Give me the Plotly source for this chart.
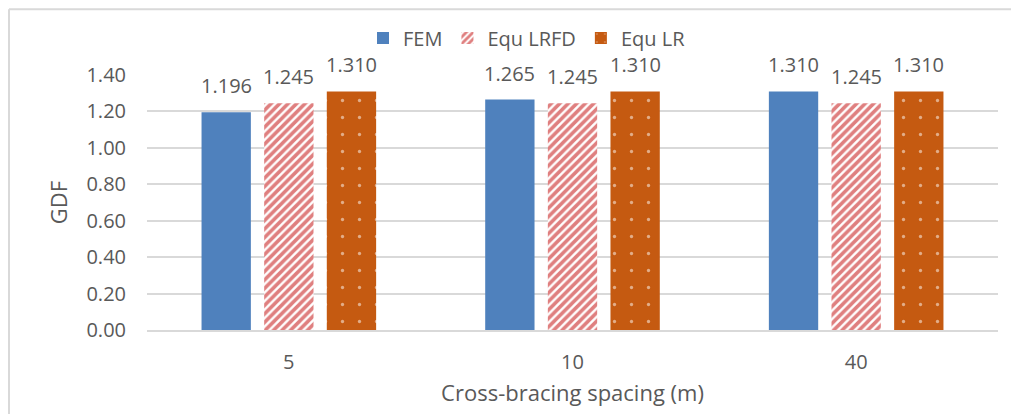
import plotly.graph_objects as go

categories = ["5", "10", "40"]
fem = [1.196, 1.265, 1.310]
equ_lrfd = [1.245, 1.245, 1.245]
equ_lr = [1.310, 1.310, 1.310]
series_names = ["FEM", "Equ LRFD", "Equ LR"]
y_ticks = [0, 0.2, 0.4, 0.6, 0.8, 1.0, 1.2, 1.4]

W, H = 1019, 414
ML, MR, MT, MB = 139, 29, 66, 92
PW = W - ML - MR
PH = H - MT - MB
GRAY = "#595959"
GRID = "#d9d9d9"
FONT = "Open Sans"

bargap = 0.3376
bargroupgap = 0.2125

fig = go.Figure()
fig.add_trace(go.Bar(name=series_names[0], x=categories, y=fem,
                     marker=dict(color="#4F81BD", line=dict(width=0))))
fig.add_trace(go.Bar(name=series_names[1], x=categories, y=equ_lrfd,
                     marker=dict(color="white", line=dict(width=0),
                                 pattern=dict(shape="/", fgcolor="#C00000", bgcolor="white",
                                              size=6, solidity=0.6, fillmode="overlay"))))
fig.add_trace(go.Bar(name=series_names[2], x=categories, y=equ_lr,
                     marker=dict(color="#C55A11", line=dict(width=0),
                                 pattern=dict(shape=".", fgcolor="white", bgcolor="#C55A11",
                                              size=17, solidity=0.03, fillmode="overlay"))))

# data labels (x given as category index)
cat_w = PW / len(categories)
slot = cat_w * (1 - bargap) / 3
annotations = []
for si, vals in enumerate([fem, equ_lrfd, equ_lr]):
    off = (si - 1) * slot
    for ci, v in enumerate(vals):
        annotations.append(dict(x=ci, y=v, xref="x", yref="y", text=f"{v:.3f}",
                                showarrow=False, yanchor="bottom", xanchor="center",
                                xshift=off, yshift=11,
                                font=dict(family=FONT, size=20, color=GRAY)))

fig.update_layout(
    width=W, height=H,
    margin=dict(l=ML, r=MR, t=MT, b=MB),
    paper_bgcolor="white", plot_bgcolor="white",
    barmode="group", bargap=bargap, bargroupgap=bargroupgap,
    font=dict(family=FONT, color=GRAY, size=20),
    legend=dict(orientation="h", x=(519 - ML) / PW, xanchor="center",
                y=1 + (MT - 30) / PH, yanchor="middle",
                font=dict(family=FONT, size=20, color=GRAY), bgcolor="rgba(0,0,0,0)",
                itemwidth=30, traceorder="normal"),
    annotations=annotations,
    xaxis=dict(type="category", range=[-0.5, len(categories) - 0.5],
               showgrid=False, showline=True, linecolor=GRID, linewidth=2,
               ticks="", tickfont=dict(size=20, color=GRAY), ticklabelstandoff=13,
               title=dict(text="Cross-bracing spacing (m)", font=dict(size=22, color=GRAY),
                          standoff=12),
               automargin=False),
    yaxis=dict(range=[0, 1.4], tickvals=y_ticks, ticktext=[f"{t:.2f}" for t in y_ticks],
               showgrid=True, gridcolor=GRID, gridwidth=1.5, zeroline=False,
               showline=False, ticks="", tickfont=dict(size=20, color=GRAY),
               ticklabelstandoff=20,
               title=dict(text="GDF", font=dict(size=22, color=GRAY), standoff=12),
               automargin=False),
    shapes=[
        dict(type="line", xref="paper", yref="paper",
             x0=(1 - ML) / PW, x1=(W + 5 - ML) / PW,
             y0=(H - MB - 0) / PH, y1=(H - MB - 0) / PH,
             line=dict(color=GRID, width=2)),
        dict(type="line", xref="paper", yref="paper",
             x0=(1 - ML) / PW, x1=(1 - ML) / PW,
             y0=(H - MB - 0) / PH, y1=(H - MB - H - 5) / PH,
             line=dict(color=GRID, width=2)),
    ],
)

fig.write_html("out.html")
